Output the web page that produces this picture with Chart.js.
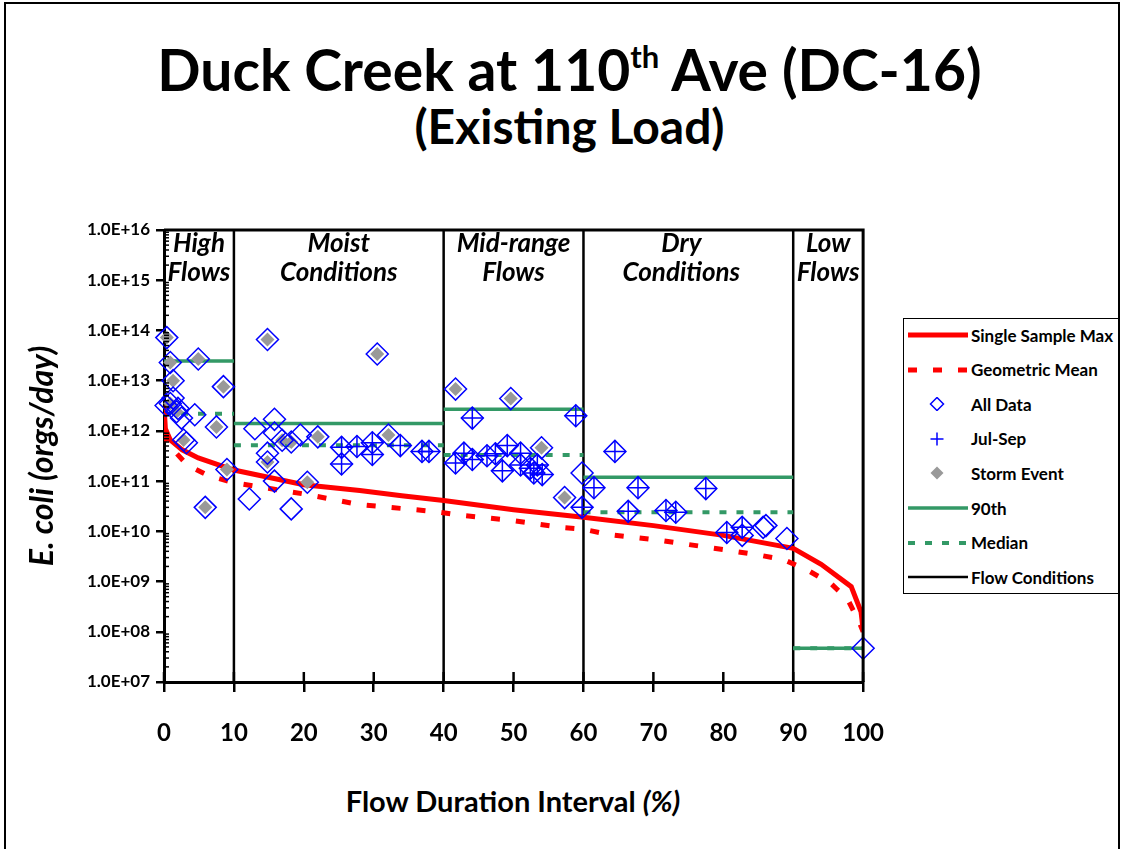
<!DOCTYPE html>
<html lang="en">
  <head>
    <meta charset="UTF-8" />
    <title>Duck Creek at 110th Ave (DC-16)</title>
    <script src="https://cdn.jsdelivr.net/npm/chart.js"></script>
    <style>
      * {
        margin: 0;
        padding: 0;
        box-sizing: border-box;
      }

      body {
        width: 1123px;
        height: 849px;
        position: relative;
        overflow: hidden;
        background: #fff;
        font-family: Lato, "DejaVu Sans", sans-serif;
        font-weight: bold;
        color: #000;
      }

      .frame {
        position: absolute;
        left: 4px;
        top: 2px;
        width: 1116px;
        height: 900px;
        border: 2px solid #000;
      }

      .title {
        position: absolute;
        left: 8px;
        width: 1123px;
        text-align: center;
        white-space: nowrap;
      }

      .t1 {
        top: 41px;
        font-size: 57px;
        line-height: 57px;
      }

      .t1 .sup {
        font-size: 31px;
        line-height: 0;
        vertical-align: 23px;
      }

      .t2 {
        top: 100px;
        font-size: 48px;
        line-height: 52px;
      }

      .chart-box {
        position: absolute;
        left: 0;
        top: 200px;
        width: 911px;
        height: 560px;
      }

      .x-title {
        position: absolute;
        left: 164px;
        width: 698px;
        top: 786px;
        text-align: center;
        font-size: 29px;
        line-height: 29px;
      }

      .legend {
        position: absolute;
        left: 903px;
        top: 318px;
        width: 216px;
        height: 276px;
        border: 1.5px solid #000;
        background: #fff;
      }

      .legend-item {
        position: absolute;
        left: 4px;
        height: 20px;
        display: flex;
        align-items: center;
        font-size: 17px;
        white-space: nowrap;
      }

      .legend-item svg {
        margin-right: 3px;
        flex: none;
      }
    </style>
  </head>
  <body>
    <div class="frame"></div>
    <div class="title t1">Duck Creek at 110<span class="sup">th</span> Ave (DC-16)</div>
    <div class="title t2">(Existing Load)</div>

    <div class="chart-box">
      <canvas id="loadChart" width="911" height="560"></canvas>
    </div>

    <div class="x-title">Flow Duration Interval <i>(%)</i></div>

    <div class="legend" id="legend"></div>

    <script>
      const RED = "#FF0000";
      const BLUE = "#0000FF";
      const GREEN = "#339966";
      const FONT = "Lato";

      // flow duration interval boundaries and zone names
      const flowBreaks = [0, 10, 40, 60, 90, 100];
      const zoneNames = [
        ["High", "Flows"],
        ["Moist", "Conditions"],
        ["Mid-range", "Flows"],
        ["Dry", "Conditions"],
        ["Low", "Flows"],
      ];
      const zoneCenters = [5, 25, 50, 74, 95];

      const xTicks = [0, 10, 20, 30, 40, 50, 60, 70, 80, 90, 100];
      const yTicks = [1e7, 1e8, 1e9, 1e10, 1e11, 1e12, 1e13, 1e14, 1e15, 1e16];

      // load duration curves (orgs/day)
      const ssmX = [0, 0.2, 0.9, 2.6, 4.9, 10, 20, 28, 34, 40, 50, 60, 70, 80, 90, 94, 98.3, 99.7, 100];
      const singleSampleMax = [
        3.2e12, 1.1e12, 6.6e11, 4.2e11, 2.9e11, 1.66e11, 8.5e10, 6.5e10, 5.1e10, 4.1e10,
        2.7e10, 1.9e10, 1.3e10, 8.3e9, 4.6e9, 2.2e9, 7.9e8, 2.5e8, 1.1e8,
      ];
      const gmX = [0, 0.5, 3.3, 6.5, 10, 20.5, 28, 38.5, 42.4, 49.6, 56.7, 60, 63.5, 71, 77.8, 85, 88.7, 92, 95.4, 97.8, 99.4, 100];
      const geometricMean = [
        9e11, 5.6e11, 2.1e11, 1.26e11, 9.3e10, 5.4e10, 3.4e10, 2.5e10, 2.1e10, 1.66e10, 1.2e10,
        1.1e10, 8.7e9, 6.6e9, 4.8e9, 3.4e9, 2.7e9, 1.7e9, 9.1e8, 4.4e8, 1.6e8, 1.0e8,
      ];

      // 90th percentile and median per flow zone
      const p90 = [2.45e13, 1.4e12, 2.7e12, 1.2e11, 4.7e7];
      const median = [2.2e12, 5.2e11, 3.3e11, 2.4e10, 4.7e7];

      // samples: [flow %, orgs/day]
      const stormEvents = [
        [0.4, 7.2e13], [0.9, 2.3e13], [4.9, 2.7e13], [1.3, 1.0e13], [8.5, 7.6e12],
        [0.9, 3.5e12], [1.8, 2.4e12], [7.5, 1.2e12], [2.8, 6.6e11], [9.0, 1.7e11],
        [5.9, 3.0e10], [14.8, 6.6e13], [16.9, 6.5e11], [18.2, 6.0e11], [22.0, 7.6e11],
        [14.8, 2.4e11], [20.5, 9.5e10], [30.5, 3.4e13], [32.1, 8.3e11], [41.7, 6.8e12],
        [49.6, 4.4e12], [54.0, 4.6e11], [57.3, 4.7e10],
      ];
      const julSep = [
        [25.4, 4.7e11], [25.4, 2.2e11], [27.6, 4.9e11], [29.8, 5.8e11], [29.8, 3.4e11],
        [33.8, 5.1e11], [36.9, 3.9e11], [37.9, 3.9e11], [44.1, 1.8e12], [58.9, 2.0e12],
        [41.7, 2.3e11], [42.9, 3.6e11], [44.1, 2.7e11], [46.2, 3.2e11], [47.4, 3.5e11],
        [49.1, 5.1e11], [48.4, 1.6e11], [51.0, 3.6e11], [51.0, 2.1e11], [52.4, 1.8e11],
        [53.4, 2.1e11], [54.1, 1.35e11], [52.9, 1.45e11], [59.8, 3.0e10], [64.5, 3.9e11],
        [61.5, 7.4e10], [67.8, 7.4e10], [77.5, 7.1e10], [66.4, 2.5e10], [71.8, 2.6e10],
        [73.2, 2.4e10], [80.5, 9.5e9], [82.7, 1.2e10],
      ];
      const otherSamples = [
        [1.3, 4.5e12], [0.3, 3.2e12], [2.0, 2.8e12], [2.5, 1.8e12], [4.4, 2.1e12],
        [3.2, 5.8e11], [13.0, 1.1e12], [15.8, 1.7e12], [15.8, 9.1e11], [19.5, 8.3e11],
        [14.8, 3.6e11], [15.8, 1.0e11], [12.2, 4.4e10], [18.2, 2.8e10], [59.8, 1.45e11],
        [82.7, 8.3e9], [85.7, 1.2e10], [86.1, 1.3e10], [89.1, 7.2e9], [100, 4.7e7],
      ];

      const toPoints = (pairs) => pairs.map(([x, y]) => ({ x, y }));
      const zip = (xs, ys) => xs.map((x, i) => ({ x, y: ys[i] }));

      function steps(vals) {
        const pts = [];
        vals.forEach((v, i) => {
          pts.push({ x: flowBreaks[i], y: v }, { x: flowBreaks[i + 1], y: v }, { x: flowBreaks[i + 1], y: null });
        });
        return pts;
      }

      const flowLines = [];
      flowBreaks.slice(1, -1).forEach((b) => {
        flowLines.push({ x: b, y: yTicks[0] }, { x: b, y: yTicks[yTicks.length - 1] }, { x: b, y: null });
      });

      function sciLabel(v) {
        const e = Math.round(Math.log10(v));
        const m = v / Math.pow(10, e);
        return m.toFixed(1) + "E" + (e < 0 ? "-" : "+") + String(Math.abs(e)).padStart(2, "0");
      }

      // minor log ticks, inner x ticks, plot frame and zone names
      const decorations = {
        id: "decorations",
        afterDatasetsDraw(chart) {
          const { ctx, chartArea: a, scales } = chart;
          const x = scales.x;
          const y = scales.y;
          ctx.save();
          ctx.strokeStyle = "#000";
          ctx.lineWidth = 3;
          ctx.beginPath();
          ctx.moveTo(a.left, a.top);
          ctx.lineTo(a.right, a.top);
          ctx.lineTo(a.right, a.bottom);
          ctx.stroke();

          ctx.lineWidth = 1.5;
          for (let i = 0; i < yTicks.length - 1; i++) {
            for (let k = 2; k < 10; k++) {
              const py = y.getPixelForValue(k * yTicks[i]);
              ctx.beginPath();
              ctx.moveTo(a.left, py);
              ctx.lineTo(a.left + 5, py);
              ctx.stroke();
            }
          }

          ctx.lineWidth = 2.5;
          xTicks.forEach((v) => {
            const px = x.getPixelForValue(v);
            ctx.beginPath();
            ctx.moveTo(px, a.bottom);
            ctx.lineTo(px, a.bottom - 10);
            ctx.stroke();
          });

          ctx.fillStyle = "#000";
          ctx.font = "italic bold 26px " + FONT;
          ctx.textAlign = "center";
          ctx.textBaseline = "middle";
          zoneNames.forEach((lines, i) => {
            const px = x.getPixelForValue(zoneCenters[i]);
            ctx.fillText(lines[0], px, a.top + 14);
            ctx.fillText(lines[1], px, a.top + 43);
          });
          ctx.restore();
        },
      };

      const datasets = [
        {
          label: "Single Sample Max",
          data: zip(ssmX, singleSampleMax),
          showLine: true,
          borderColor: RED,
          borderWidth: 5,
          pointRadius: 0,
          order: 5,
        },
        {
          label: "Geometric Mean",
          data: zip(gmX, geometricMean),
          showLine: true,
          borderColor: RED,
          borderWidth: 5,
          borderDash: [9, 16],
          pointRadius: 0,
          order: 5,
        },
        {
          label: "All Data",
          data: toPoints([...stormEvents, ...julSep, ...otherSamples]),
          pointStyle: "rectRot",
          pointRadius: 11,
          borderColor: BLUE,
          backgroundColor: "rgba(0,0,0,0)",
          borderWidth: 1.5,
          order: 2,
          clip: false,
        },
        {
          label: "Jul-Sep",
          data: toPoints(julSep),
          pointStyle: "cross",
          pointRadius: 11,
          borderColor: BLUE,
          borderWidth: 1.5,
          order: 1,
          clip: false,
        },
        {
          label: "Storm Event",
          data: toPoints(stormEvents),
          pointStyle: "rectRot",
          pointRadius: 7,
          backgroundColor: "#999999",
          borderColor: "#999999",
          borderWidth: 0,
          order: 3,
          clip: false,
        },
        {
          label: "90th",
          data: steps(p90),
          showLine: true,
          borderColor: GREEN,
          borderWidth: 3.5,
          pointRadius: 0,
          order: 6,
        },
        {
          label: "Median",
          data: steps(median),
          showLine: true,
          borderColor: GREEN,
          borderWidth: 4,
          borderDash: [7, 10],
          pointRadius: 0,
          order: 6,
        },
        {
          label: "Flow Conditions",
          data: flowLines,
          showLine: true,
          borderColor: "#000",
          borderWidth: 2.5,
          pointRadius: 0,
          order: 7,
        },
      ];

      const chart = new Chart(document.getElementById("loadChart"), {
        type: "scatter",
        data: { datasets },
        options: {
          responsive: false,
          animation: false,
          events: [],
          layout: { padding: { top: 30, right: 0, left: 0, bottom: 0 } },
          plugins: {
            legend: { display: false },
            tooltip: { enabled: false },
          },
          scales: {
            x: {
              type: "linear",
              min: 0,
              max: 100,
              afterBuildTicks: (scale) => {
                scale.ticks = xTicks.map((v) => ({ value: v }));
              },
              afterFit: (scale) => {
                scale.height = 78;
              },
              ticks: {
                color: "#000",
                padding: 27,
                font: { family: FONT, size: 24, weight: "bold" },
              },
              grid: { drawOnChartArea: false, color: "#000", lineWidth: 2.5, tickLength: 10 },
              border: { display: true, color: "#000", width: 3 },
            },
            y: {
              type: "logarithmic",
              min: yTicks[0],
              max: yTicks[yTicks.length - 1],
              afterBuildTicks: (scale) => {
                scale.ticks = yTicks.map((v) => ({ value: v }));
              },
              afterFit: (scale) => {
                scale.width = 164;
              },
              ticks: {
                color: "#000",
                padding: 6,
                font: { family: FONT, size: 17, weight: "bold" },
                callback: (v) => sciLabel(v),
              },
              grid: { drawOnChartArea: false, color: "#000", lineWidth: 2.5, tickLength: 8 },
              border: { display: true, color: "#000", width: 3 },
              title: {
                display: true,
                text: "E. coli (orgs/day)",
                color: "#000",
                padding: { top: 23, bottom: 0 },
                font: { family: FONT, size: 32, style: "italic", weight: "bold" },
              },
            },
          },
        },
        plugins: [decorations],
      });

      // legend box built from the dataset styles
      function legendSample(ds) {
        if (ds.showLine) {
          const dash = ds.borderDash ? ds.borderDash.join(" ") : "none";
          return `<svg width="60" height="14"><line x1="0" y1="7" x2="60" y2="7" stroke="${ds.borderColor}" stroke-width="${ds.borderWidth}" stroke-dasharray="${dash}"/></svg>`;
        }
        const r = 6.5;
        const diamond = `${29 - r},7 29,${7 - r} ${29 + r},7 29,${7 + r}`;
        if (ds.pointStyle === "cross") {
          return `<svg width="60" height="14"><path d="M${29 - r} 7H${29 + r}M29 ${7 - r}V${7 + r}" stroke="${ds.borderColor}" stroke-width="1.5"/></svg>`;
        }
        if (ds.label === "Storm Event") {
          return `<svg width="60" height="14"><polygon points="${diamond}" fill="${ds.backgroundColor}"/></svg>`;
        }
        return `<svg width="60" height="14"><polygon points="${diamond}" fill="none" stroke="${ds.borderColor}" stroke-width="1.5"/></svg>`;
      }

      const legend = document.getElementById("legend");
      legend.innerHTML = "";
      chart.data.datasets.forEach((ds, i) => {
        const top = 16 + i * 34.6 - 10;
        legend.innerHTML += `<div class="legend-item" style="top:${top}px">${legendSample(ds)}<span>${ds.label}</span></div>`;
      });
    </script>
  </body>
</html>
